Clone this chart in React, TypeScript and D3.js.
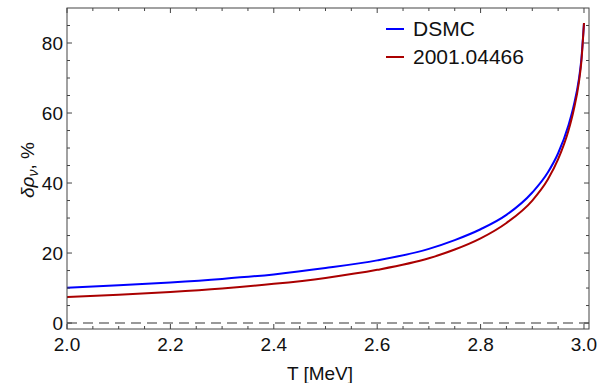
import { useEffect, useRef } from 'react';
import * as d3 from 'd3';

// temperature grid (MeV) and the two relative-density curves (%)
const temps = [2.0, 2.1, 2.2, 2.3, 2.4, 2.5, 2.6, 2.7, 2.75, 2.8, 2.85, 2.9, 2.93, 2.95, 2.97, 2.98, 2.99, 2.995, 3.0];
const dsmc = [10.1, 10.8, 11.6, 12.6, 13.9, 15.7, 17.9, 21.2, 23.7, 26.8, 30.9, 37.3, 43.0, 48.5, 56.5, 62.0, 69.5, 75.5, 85.7];
const ref2001 = [7.4, 8.1, 8.9, 9.9, 11.2, 12.9, 15.2, 18.5, 21.0, 24.2, 28.6, 35.0, 41.0, 46.8, 55.0, 60.8, 68.6, 74.8, 85.7];

const xTicks = [2.0, 2.2, 2.4, 2.6, 2.8, 3.0];
const yTicks = [0, 20, 40, 60, 80];

const seriesNames = ['DSMC', '2001.04466'];
const seriesColors = ['#0000ff', '#aa0000'];

export default function App() {
  const ref = useRef<SVGSVGElement>(null);

  useEffect(() => {
    if (!ref.current) return;
    const svg = d3.select(ref.current);
    svg.selectAll('*').remove();

    const width = 608;
    const height = 383;
    const margin = { top: 8, right: 19, bottom: 54, left: 67 };
    const w = width - margin.left - margin.right;
    const h = height - margin.top - margin.bottom;
    const font = 'Liberation Sans, Arial, sans-serif';

    // a bit of room past 3.0 on the right and below 0 at the bottom, like the original frame
    const x = d3.scaleLinear().domain([2.0, 3.0097]).range([0, w]);
    const y = d3.scaleLinear().domain([-1.7, 90]).range([h, 0]);

    const g = svg.append('g').attr('transform', `translate(${margin.left},${margin.top})`);

    // zero line
    g.append('line')
      .attr('x1', 0)
      .attr('x2', w)
      .attr('y1', y(0))
      .attr('y2', y(0))
      .attr('stroke', '#999')
      .attr('stroke-width', 2)
      .attr('stroke-dasharray', '10 6');

    const line = d3
      .line<number>()
      .x((_, i) => x(temps[i]))
      .y((d) => y(d))
      .curve(d3.curveMonotoneX);

    [dsmc, ref2001].forEach((vals, k) => {
      g.append('path')
        .datum(vals)
        .attr('fill', 'none')
        .attr('stroke', seriesColors[k])
        .attr('stroke-width', 2)
        .attr('d', line);
    });

    // frame + inward ticks on all sides
    g.append('rect')
      .attr('width', w)
      .attr('height', h)
      .attr('fill', 'none')
      .attr('stroke', '#444')
      .attr('stroke-width', 1);

    const xMinor = d3.range(2.0, 3.0001, 0.05);
    const yMinor = d3.range(0, 90, 5);
    const tick = (x1, y1, x2, y2) =>
      g.append('line').attr('x1', x1).attr('y1', y1).attr('x2', x2).attr('y2', y2).attr('stroke', '#444').attr('stroke-width', 1);

    xMinor.forEach((t) => {
      const major = xTicks.some((m) => Math.abs(m - t) < 1e-6);
      const len = major ? 5 : 3;
      tick(x(t), h, x(t), h - len);
      tick(x(t), 0, x(t), len);
    });
    yMinor.forEach((v) => {
      const major = yTicks.includes(v);
      const len = major ? 5 : 3;
      tick(0, y(v), len, y(v));
      tick(w, y(v), w - len, y(v));
    });

    g.selectAll('.xl')
      .data(xTicks)
      .join('text')
      .attr('x', (d) => x(d))
      .attr('y', h + 22)
      .attr('text-anchor', 'middle')
      .attr('font-family', font)
      .attr('font-size', 19)
      .attr('fill', '#111')
      .text((d) => d.toFixed(1));

    g.selectAll('.yl')
      .data(yTicks)
      .join('text')
      .attr('x', -4)
      .attr('y', (d) => y(d) + 7)
      .attr('text-anchor', 'end')
      .attr('font-family', font)
      .attr('font-size', 19)
      .attr('fill', '#111')
      .text((d) => d);

    svg.append('text')
      .attr('x', margin.left + w / 2 - 8)
      .attr('y', 380)
      .attr('text-anchor', 'middle')
      .attr('font-family', font)
      .attr('font-size', 19)
      .attr('fill', '#111')
      .text('T [MeV]');

    const yl = svg.append('text')
      .attr('transform', 'translate(34,170) rotate(-90)')
      .attr('text-anchor', 'middle')
      .attr('font-family', font)
      .attr('font-size', 19)
      .attr('fill', '#111');
    yl.append('tspan').attr('font-style', 'italic').text('δρ');
    yl.append('tspan').attr('font-style', 'italic').attr('font-size', 14).attr('dy', 4).text('ν');
    yl.append('tspan').attr('dy', -4).text(', %');

    // legend
    const lg = svg.append('g').attr('transform', 'translate(386,0)');
    seriesNames.forEach((name, i) => {
      const cy = 29 + i * 28;
      lg.append('line').attr('x1', 0).attr('x2', 18).attr('y1', cy).attr('y2', cy).attr('stroke', seriesColors[i]).attr('stroke-width', 2);
      lg.append('text')
        .attr('x', 27)
        .attr('y', cy + 7)
        .attr('font-family', font)
        .attr('font-size', 21)
        .attr('fill', '#111')
        .text(name);
    });
  }, []);

  return <svg ref={ref} width={608} height={383} style={{ position: 'absolute', left: 0, top: 0, background: '#fff' }} />;
}
